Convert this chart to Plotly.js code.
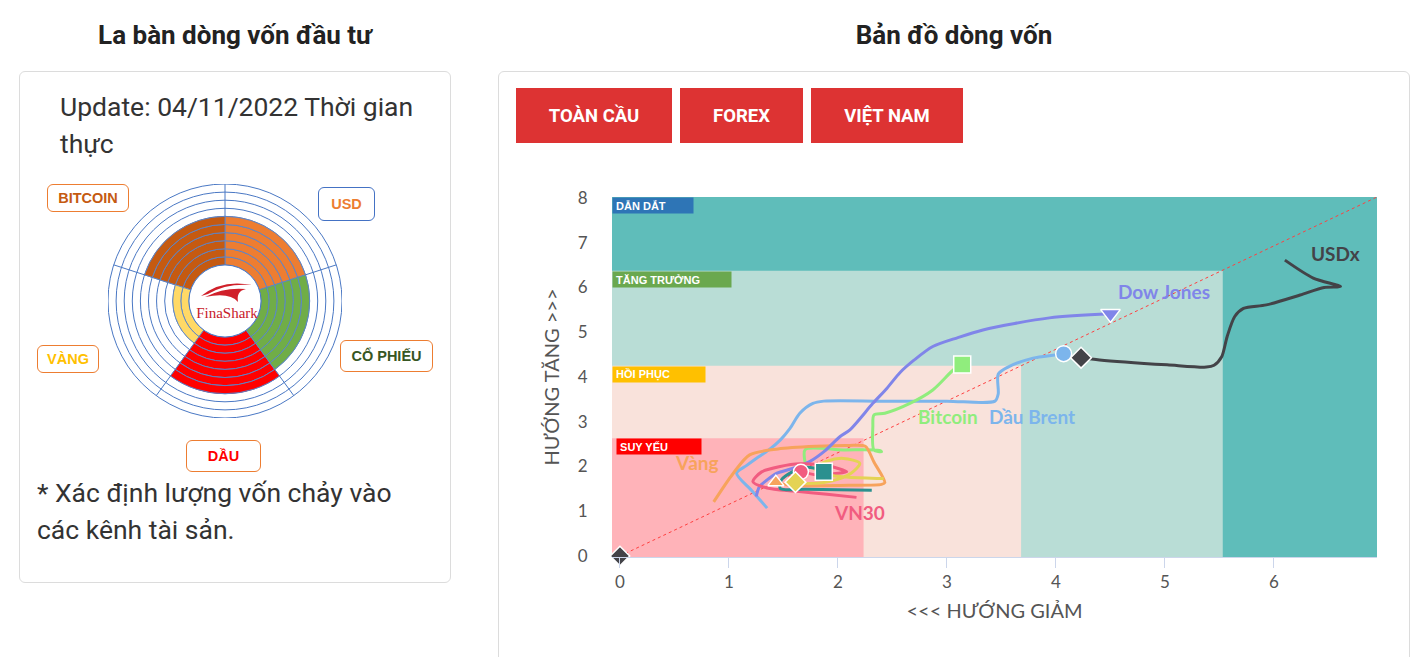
<!DOCTYPE html>
<html>
<head>
<meta charset="utf-8">
<script src="https://cdn.plot.ly/plotly-3.0.1.min.js"></script>
<style>
  html,body{margin:0;padding:0;}
  body{width:1424px;height:657px;overflow:hidden;background:#fff;position:relative;font-family:Roboto,"Noto Sans",sans-serif;color:#333;}
  .title{position:absolute;top:20px;height:30px;line-height:30px;font-weight:700;font-size:26px;color:#222;text-align:center;}
  .card{position:absolute;border:1px solid #dcdcdc;border-radius:6px;background:#fff;box-sizing:border-box;}
  .txt{position:absolute;font-size:26.5px;line-height:37px;color:#333;white-space:nowrap;}
  .tag{position:absolute;box-sizing:border-box;border:1px solid #ED7D31;border-radius:6px;background:#fff;
       font-family:"Liberation Sans",Arial,sans-serif;font-weight:700;font-size:14.5px;display:flex;align-items:center;justify-content:center;}
  .btn{position:absolute;top:88px;height:55px;background:#DD3333;color:#fff;font-weight:700;font-size:18.5px;
       display:flex;align-items:center;justify-content:center;font-family:Roboto,sans-serif;}
  #compass{position:absolute;left:108px;top:184px;width:234px;height:234px;}
  #logo{position:absolute;left:180px;top:270px;width:90px;height:60px;pointer-events:none;}
  #map{position:absolute;left:500px;top:150px;width:900px;height:480px;}
</style>
</head>
<body>
<div class="title" style="left:19px;width:432px;">La bàn dòng vốn đầu tư</div>
<div class="title" style="left:498px;width:912px;">Bản đồ dòng vốn</div>

<div class="card" style="left:19px;top:71px;width:432px;height:512px;"></div>
<div class="card" style="left:498px;top:71px;width:912px;height:620px;"></div>

<div class="txt" style="left:60px;top:88px;">Update: 04/11/2022 Thời gian<br>thực</div>
<div class="txt" style="left:37px;top:474px;">* Xác định lượng vốn chảy vào<br>các kênh tài sản.</div>

<div id="compass"></div>
<svg id="logo" viewBox="180 270 90 60">
  <path d="M201,296 Q222,279 252,285 Q226,283 208,294 Z" fill="#D0202A"/>
  <path d="M205,297 Q224,287 246,289 Q236,291 238,302 Q230,292 205,297 Z" fill="#D0202A"/>
  <text x="227" y="318" text-anchor="middle" font-family="'Liberation Serif','DejaVu Serif',serif" font-size="15" fill="#C8202A">FinaShark</text>
</svg>

<div class="tag" style="left:47px;top:184px;width:82px;height:28px;color:#C55A11;">BITCOIN</div>
<div class="tag" style="left:318px;top:187px;width:57px;height:34px;color:#ED7D31;border-color:#4472C4;">USD</div>
<div class="tag" style="left:340px;top:340px;width:93px;height:32px;color:#375623;">CỔ PHIẾU</div>
<div class="tag" style="left:37px;top:345px;width:62px;height:28px;color:#FFC000;">VÀNG</div>
<div class="tag" style="left:186px;top:440px;width:75px;height:32px;color:#FF0000;">DẦU</div>

<div class="btn" style="left:516px;width:156px;">TOÀN CẦU</div>
<div class="btn" style="left:680px;width:123px;">FOREX</div>
<div class="btn" style="left:811px;width:152px;">VIỆT NAM</div>

<div id="map"></div>

<script>
// ---------- Compass data ----------
const compassNames  = ['USD','BITCOIN','VÀNG','DẦU','CỔ PHIẾU'];
const compassTheta  = [54, 126, 198, 270, 342];
const compassValues = [6, 6, 2, 7, 6];
const compassColors = ['#ED7D31','#C55A11','#FFD966','#FF0000','#70AD47'];

// ---------- Map data ----------
const brentX = [1.35,1.21,1.07,1.16,1.25,1.36,1.47,1.56,1.65,1.77,1.87,2.40,3.00,3.44,3.47,3.47,3.56,3.79,3.99,4.07];
const brentY = [1.07,1.46,1.85,2.02,2.18,2.36,2.59,2.85,3.19,3.41,3.46,3.46,3.46,3.46,3.62,4.06,4.22,4.42,4.49,4.52];

const usdxX = [6.10,6.36,6.61,6.46,6.24,5.93,5.72,5.64,5.57,5.52,5.45,5.38,5.02,4.40,4.23];
const usdxY = [6.61,6.21,6.02,6.00,5.83,5.61,5.53,5.35,4.90,4.45,4.26,4.22,4.27,4.38,4.43];

const btcX = [1.70,1.70,2.05,2.38,2.40,2.33,2.32,2.33,2.43,2.66,2.87,3.06,3.14];
const btcY = [2.07,2.38,2.37,2.36,2.33,2.37,2.90,3.15,3.19,3.41,3.71,4.16,4.28];

const goldX = [0.86,1.04,1.19,1.45,1.80,2.10,2.25,2.33,2.43,2.40,2.10,1.80,1.55,1.43];
const goldY = [1.21,1.85,2.26,2.39,2.45,2.47,2.45,2.10,1.64,1.60,1.58,1.57,1.58,1.65];

const dowX = [1.25,1.28,1.35,1.44,1.59,1.74,1.88,2.02,2.11,2.32,2.45,2.57,2.70,2.87,3.10,3.33,3.94,4.50];
const dowY = [1.33,1.55,1.70,1.85,1.96,2.11,2.35,2.67,2.82,3.41,3.75,4.10,4.38,4.68,4.88,5.05,5.32,5.41];

const vn30X = [2.17,1.90,1.60,1.35,1.22,1.30,1.47,1.65,1.90,2.08,1.96,1.85,1.66];
const vn30Y = [1.31,1.38,1.45,1.52,1.66,1.88,2.00,2.06,2.02,1.88,1.84,1.80,1.88];

const s7X = [2.42,2.10,1.95,1.78,1.90,2.05,2.20,2.12,1.95,1.75,1.61];
const s7Y = [1.73,1.76,1.80,1.95,2.12,2.18,2.07,1.85,1.68,1.62,1.65];

const s8X = [2.31,2.00,1.70,1.47,1.48,1.58,1.68,1.79,1.87];
const s8Y = [1.47,1.48,1.49,1.51,1.70,1.88,1.98,1.96,1.88];

const diagX = [0, 6.945];
const diagY = [0, 8.02];
const originX = [0];
const originY = [0];

const seriesNames = ['Dầu Brent','USDx','Bitcoin','Vàng','Dow Jones','VN30','Chuỗi 7','Chuỗi 8'];
const seriesXs = [brentX, usdxX, btcX, goldX, dowX, vn30X, s7X, s8X];
const seriesYs = [brentY, usdxY, btcY, goldY, dowY, vn30Y, s7Y, s8Y];

// zones
const zoneNames = ['DẪN DẮT','TĂNG TRƯỞNG','HỒI PHỤC','SUY YẾU'];
const zoneX = [6.945, 5.53, 3.68, 2.235];
const zoneY = [8.02, 6.37, 4.25, 2.63];

// labels
const labelNames = ['Dow Jones','USDx','Bitcoin','Dầu Brent','Vàng','VN30'];
const labelX = [4.99, 6.56, 3.01, 3.78, 0.71, 2.20];
const labelY = [5.90, 6.75, 3.11, 3.11, 2.10, 0.98];

const xTicks = [0,1,2,3,4,5,6];
const yTicks = [0,1,2,3,4,5,6,7,8];

// ---------- styles ----------
const seriesColors  = ['#7cb5ec','#434348','#90ed7d','#f7a35c','#8085e9','#f15c80','#e4d354','#2b908f'];
const seriesSymbols = ['circle','diamond','square','triangle-up','triangle-down','circle','diamond','square'];
const seriesSizes   = [16,16,17,14,17,15,16,17];
const zoneFill  = ['#5FBDBA','#B9DDD6','#F9E2DB','#FFB3B9'];
const tagColor  = ['#2E75B6','#6AA84F','#FFC000','#FF0000'];
const tagWidth  = [80,118,92,84];
const tagShift  = [0,0,0,4];
const labelColors = ['#8085e9','#434348','#90ed7d','#7cb5ec','#f7a35c','#f15c80'];
const xRange = [-0.073, 6.945];
const yRange = [-0.022, 8.02];

// ---------- Compass ----------
(function(){
  const th=[], r=[], b=[], c=[];
  compassValues.forEach((v,i)=>{
    for(let k=0;k<v;k++){ th.push(compassTheta[i]); r.push(1); b.push(k); c.push(compassColors[i]); }
  });
  const trace = {type:'barpolar', theta:th, r:r, base:b, width:72,
    marker:{color:c, line:{color:'#5A86CC', width:0.9}}, hoverinfo:'skip'};
  const layout = {
    width:234, height:234, margin:{l:0,r:0,t:0,b:0}, showlegend:false,
    paper_bgcolor:'rgba(0,0,0,0)',
    polar:{
      domain:{x:[0,1],y:[0,1]}, hole:0.308, bgcolor:'#fff',
      radialaxis:{range:[0,10], tickvals:[1,2,3,4,5,6,7,8,9,10], showticklabels:false, ticks:'',
                  showline:false, gridcolor:'#4A78C4', gridwidth:1},
      angularaxis:{tickmode:'array', tickvals:[18,90,162,234,306], showticklabels:false, ticks:'',
                   showline:true, linecolor:'#4A78C4', linewidth:1, gridcolor:'#4A78C4', gridwidth:1}
    }
  };
  Plotly.newPlot('compass',[trace],layout,{displayModeBar:false,staticPlot:true});
})();

// ---------- Map ----------
(function(){
  const traces = [];
  traces.push({type:'scatter', mode:'lines', x:diagX, y:diagY, line:{color:'#FF4040', width:1, dash:'dot'}, hoverinfo:'skip', showlegend:false});
  seriesNames.forEach((n,i)=>{
    traces.push({type:'scatter', mode:'lines', name:n, x:seriesXs[i], y:seriesYs[i],
      line:{color:seriesColors[i], width:3, shape:'spline', smoothing:0.8}, showlegend:false, hoverinfo:'skip'});
  });
  seriesNames.forEach((n,i)=>{
    const xs=seriesXs[i], ys=seriesYs[i];
    traces.push({type:'scatter', mode:'markers', name:n, x:xs.slice(-1), y:ys.slice(-1),
      marker:{symbol:seriesSymbols[i], size:seriesSizes[i], color:seriesColors[i], line:{color:'#fff', width:1.5}},
      showlegend:false, hoverinfo:'skip'});
  });
  traces.push({type:'scatter', mode:'markers', x:originX, y:originY,
    marker:{symbol:'diamond', size:15, color:'#434348', line:{color:'#fff', width:1.5}}, showlegend:false, hoverinfo:'skip', cliponaxis:false});

  const shapes = zoneNames.map((z,i)=>({type:'rect', layer:'below', xref:'x', yref:'y',
    x0:xRange[0], x1:zoneX[i], y0:yRange[0], y1:zoneY[i], fillcolor:zoneFill[i], line:{width:0}}));

  const annotations = [];
  zoneNames.forEach((z,i)=>{
    annotations.push({xref:'paper', x:0, xanchor:'left', xshift:tagShift[i], yref:'y', y:zoneY[i], yanchor:'top',
      text:'\u00A0'+z, showarrow:false, bgcolor:tagColor[i], width:tagWidth[i], height:15, align:'left', borderpad:0,
      font:{family:'"Liberation Sans", Arial, sans-serif', size:11, color:'#fff', weight:700}});
  });
  labelNames.forEach((t,i)=>{
    annotations.push({xref:'x', yref:'y', x:labelX[i], y:labelY[i], text:t, showarrow:false,
      font:{family:'Lato, "Open Sans", sans-serif', size:19, color:labelColors[i], weight:700}});
  });

  const layout = {
    width:900, height:480, margin:{l:112, r:23, t:47, b:73},
    paper_bgcolor:'rgba(0,0,0,0)', plot_bgcolor:'#fff', showlegend:false,
    xaxis:{range:xRange, tickvals:xTicks, showgrid:false, zeroline:false, showline:true, linecolor:'#CCD6EB', linewidth:1,
      ticks:'outside', ticklen:10, tickcolor:'#CCD6EB', tickfont:{family:'Lato, sans-serif', size:17, color:'#555'},
      title:{text:'<<< HƯỚNG GIẢM', font:{family:'Lato, sans-serif', size:20, color:'#555'}, standoff:12}},
    yaxis:{range:yRange, tickvals:yTicks, showgrid:false, zeroline:false, showline:false,
      ticks:'outside', ticklen:20, tickcolor:'rgba(0,0,0,0)', tickfont:{family:'Lato, sans-serif', size:17, color:'#555'},
      title:{text:'HƯỚNG TĂNG >>>', font:{family:'Lato, sans-serif', size:20, color:'#555'}, standoff:12}},
    shapes:shapes, annotations:annotations
  };
  Plotly.newPlot('map', traces, layout, {displayModeBar:false, staticPlot:true});
})();
</script>
</body>
</html>
